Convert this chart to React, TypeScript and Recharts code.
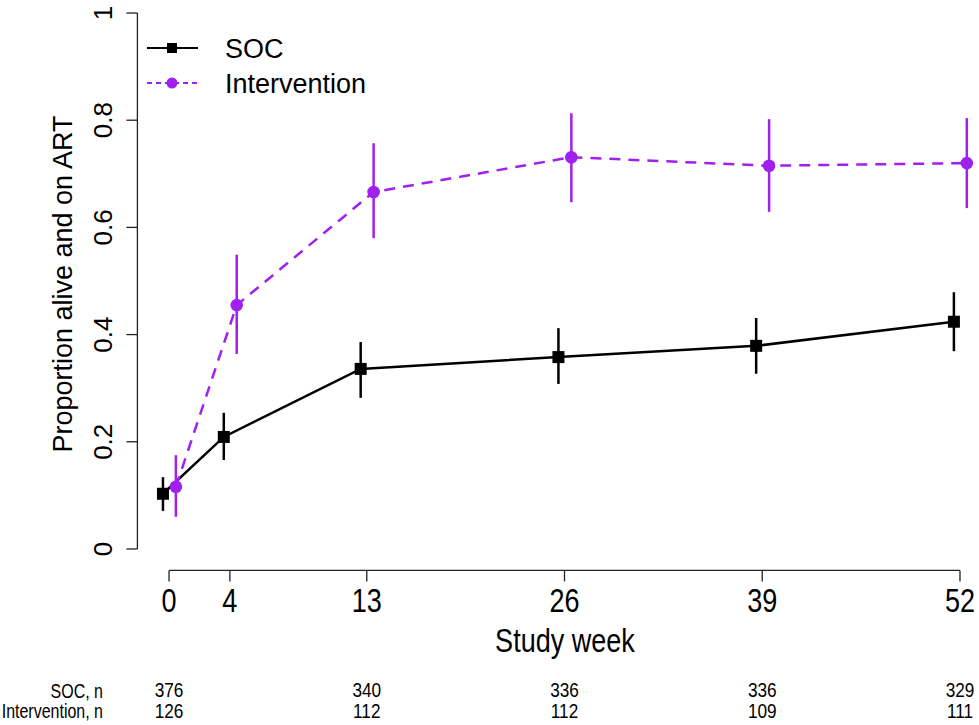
import { ErrorBar, Line, LineChart, ReferenceLine, XAxis, YAxis } from "recharts";

// weeks of follow-up and the estimates
const weeks = [0, 4, 13, 26, 39, 52];
const yTicks = [0, 0.2, 0.4, 0.6, 0.8, 1];

const socEst = [0.103, 0.209, 0.336, 0.358, 0.379, 0.424];
const socLower = [0.071, 0.166, 0.282, 0.308, 0.327, 0.369];
const socUpper = [0.134, 0.254, 0.386, 0.412, 0.431, 0.479];

const intEst = [0.116, 0.455, 0.666, 0.731, 0.715, 0.72];
const intLower = [0.06, 0.364, 0.58, 0.647, 0.629, 0.636];
const intUpper = [0.175, 0.549, 0.757, 0.813, 0.802, 0.804];

const socN = [376, null, 340, 336, 336, 329];
const intN = [126, null, 112, 112, 109, 111];

// points are dodged a little left/right of the week
const socDodge = -0.4;
const intDodge = 0.45;

const PURPLE = "#A020F0";
const FONT = '"Liberation Sans", Arial, sans-serif';

const socData = weeks.map((w, i) => ({
  x: w + socDodge,
  y: socEst[i],
  err: [socEst[i] - socLower[i], socUpper[i] - socEst[i]]
}));

const intData = weeks.map((w, i) => ({
  x: w + intDodge,
  y: intEst[i],
  err: [intEst[i] - intLower[i], intUpper[i] - intEst[i]]
}));

function XTick(props: any) {
  const { x, y, payload } = props;
  const i = weeks.indexOf(payload.value);
  const narrow = `scale(0.82,1)`;
  return (
    <g transform={`translate(${x},${y})`} fontFamily={FONT} fill="#000">
      <text transform={narrow} y={28.6} textAnchor="middle" fontSize={33}>
        {payload.value}
      </text>
      {socN[i] != null && (
        <text transform={narrow} y={114} textAnchor="middle" fontSize={21}>
          {socN[i]}
        </text>
      )}
      {intN[i] != null && (
        <text transform={narrow} y={134.6} textAnchor="middle" fontSize={21}>
          {intN[i]}
        </text>
      )}
    </g>
  );
}

function YTick(props: any) {
  const { x, y, payload } = props;
  return (
    <text
      transform={`translate(${x - 12},${y}) rotate(-90)`}
      textAnchor="middle"
      fontSize={26}
      fontFamily={FONT}
      fill="#000"
    >
      {String(payload.value)}
    </text>
  );
}

function SocDot(props: any) {
  const { cx, cy, index } = props;
  return <rect key={`s${index}`} x={cx - 6} y={cy - 6} width={12} height={12} fill="#000" />;
}

function IntDot(props: any) {
  const { cx, cy, index } = props;
  return <circle key={`i${index}`} cx={cx} cy={cy} r={6.3} fill={PURPLE} />;
}

function LegendBox() {
  return (
    <svg width={260} height={80} style={{ position: "absolute", left: 140, top: 28 }}>
      <line x1={7} x2={58} y1={20} y2={20} stroke="#000" strokeWidth={2} />
      <rect x={27} y={15} width={10} height={10} fill="#000" />
      <text x={85} y={29.5} fontSize={27} fontFamily={FONT} fill="#000">SOC</text>
      <line x1={7} x2={58} y1={55} y2={55} stroke={PURPLE} strokeWidth={2} strokeDasharray="5 4" />
      <circle cx={32} cy={55} r={5.5} fill={PURPLE} />
      <text x={85} y={64.5} fontSize={27} fontFamily={FONT} fill="#000">Intervention</text>
    </svg>
  );
}

export default function App() {
  return (
    <div style={{ position: "absolute", left: 0, top: 0, width: 979, height: 725, background: "#fff", overflow: "hidden" }}>
      <LineChart
        width={979}
        height={725}
        margin={{ top: 0, right: 0, bottom: 124.6, left: 37.4 }}
      >
        <XAxis
          type="number"
          dataKey="x"
          domain={[-2.08, 53.25]}
          allowDataOverflow
          ticks={weeks}
          interval={0}
          axisLine={false}
          tickLine={{ stroke: "#222", strokeWidth: 1.3 }}
          tickSize={11}
          height={30}
          tick={<XTick />}
        />
        <YAxis
          type="number"
          domain={[-0.04, 1.0243]}
          allowDataOverflow
          ticks={yTicks}
          interval={0}
          axisLine={false}
          tickLine={{ stroke: "#222", strokeWidth: 1.3 }}
          tickSize={11}
          width={100}
          tick={<YTick />}
        />
        <ReferenceLine
          segment={[{ x: 0, y: -0.04 }, { x: 52, y: -0.04 }]}
          stroke="#222"
          strokeWidth={1.3}
          ifOverflow="visible"
        />
        <ReferenceLine
          segment={[{ x: -2.08, y: 0 }, { x: -2.08, y: 1 }]}
          stroke="#222"
          strokeWidth={1.3}
          ifOverflow="visible"
        />
        <Line
          data={socData}
          dataKey="y"
          name="SOC"
          type="linear"
          stroke="#000"
          strokeWidth={2.5}
          dot={SocDot}
          activeDot={false}
          isAnimationActive={false}
        >
          <ErrorBar dataKey="err" direction="y" width={0} stroke="#000" strokeWidth={2.5} isAnimationActive={false} />
        </Line>
        <Line
          data={intData}
          dataKey="y"
          name="Intervention"
          type="linear"
          stroke={PURPLE}
          strokeWidth={2.5}
          strokeDasharray="11 8"
          dot={IntDot}
          activeDot={false}
          isAnimationActive={false}
        >
          <ErrorBar dataKey="err" direction="y" width={0} stroke={PURPLE} strokeWidth={2.5} isAnimationActive={false} />
        </Line>
      </LineChart>

      <LegendBox />

      <svg width={979} height={725} style={{ position: "absolute", left: 0, top: 0, pointerEvents: "none" }} fontFamily={FONT}>
        <text transform="translate(72,284) rotate(-90)" textAnchor="middle" fontSize={27} fill="#000">
          Proportion alive and on ART
        </text>
        <text transform="translate(565,652) scale(0.82,1)" textAnchor="middle" fontSize={33} fill="#000">
          Study week
        </text>
        <text transform="translate(103,697.5) scale(0.82,1)" textAnchor="end" fontSize={19.5} fill="#000">
          SOC, n
        </text>
        <text transform="translate(103,718) scale(0.82,1)" textAnchor="end" fontSize={19.5} fill="#000">
          Intervention, n
        </text>
      </svg>
    </div>
  );
}
